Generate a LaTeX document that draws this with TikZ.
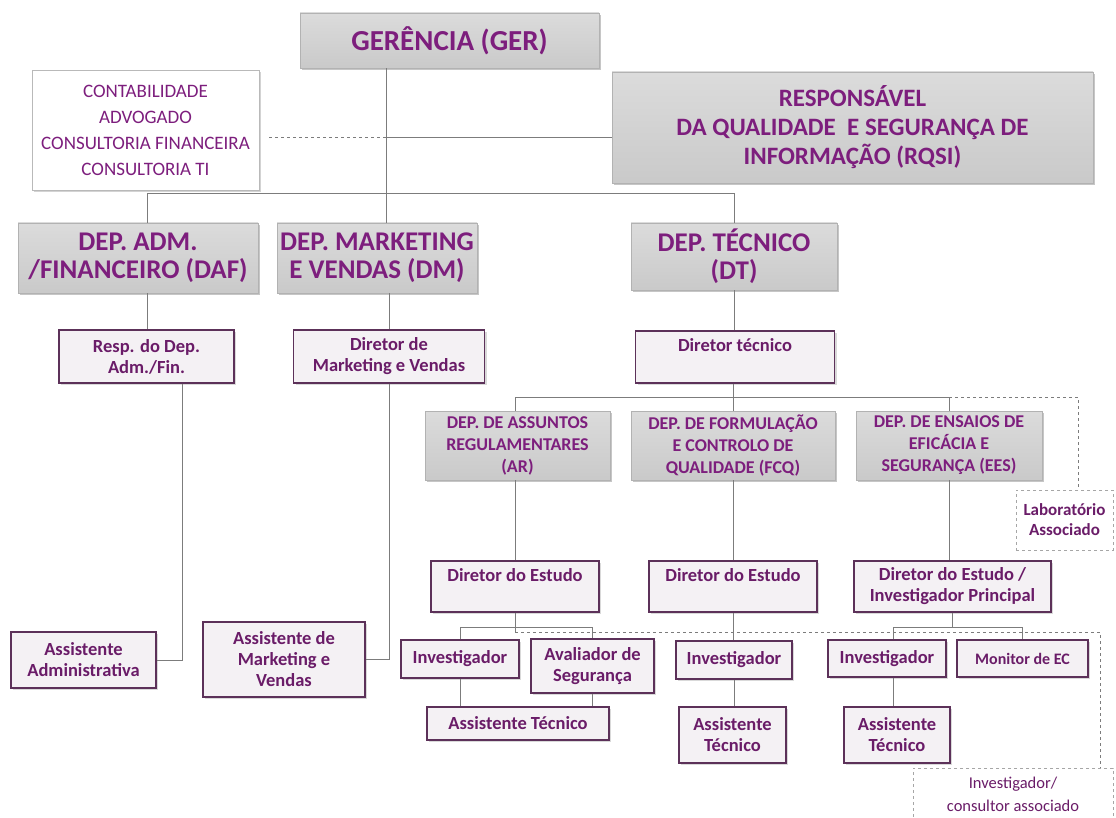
\documentclass[tikz,border=0pt]{standalone}
\usepackage{fontspec}
\setmainfont{Carlito}
\usetikzlibrary{positioning}
\usetikzlibrary{shadows}
\definecolor{plum}{HTML}{7D1E7D}
\definecolor{plumdark}{HTML}{6A1C68}
\definecolor{boxline}{HTML}{5C3159}
\definecolor{boxfill}{HTML}{F4F1F4}
\definecolor{wire}{HTML}{7C7C7C}
\newcommand\bigtitle{\fontsize{29}{30}\selectfont\bfseries}
\newcommand\depttitle{\fontsize{27}{28}\selectfont\bfseries}
\newcommand\subtitle{\fontsize{25}{29}\selectfont\bfseries}
\newcommand\unittitle{\fontsize{18}{22}\selectfont\bfseries}
\newcommand\roletitle{\fontsize{18.5}{21}\selectfont\bfseries}
\tikzset{
  sz/.style 2 args={minimum width=#1 pt, minimum height=#2 pt},
  dept/.style={draw=gray!60, top color=gray!28, bottom color=gray!42, drop shadow={opacity=0.45},
    text=plum, inner sep=0pt, align=center},
  role/.style={draw=boxline, line width=1.1pt, fill=boxfill, drop shadow={opacity=0.3},
    text=plumdark, inner sep=0pt, align=center, font=\roletitle},
  extern/.style={draw=gray!70, dashed, fill=white, text=plumdark, inner sep=0pt, align=center},
  wire/.style={draw=wire, line width=0.9pt},
  dashwire/.style={wire, dashed}
}

\begin{document}
\begin{tikzpicture}[x=1pt, y=-1pt]
\useasboundingbox (0,0) rectangle (1116,818);
% top level
\node[dept, sz={299}{55}, font=\bigtitle] (ger) at (449.5,40.5) {GERÊNCIA (GER)};
\node[draw=gray!55, fill=white, drop shadow={opacity=0.35}, sz={227}{120}, inner sep=0pt, align=center,
  text=plum, font=\fontsize{19}{26}\selectfont] (cons) at (145.5,130)
  {CONTABILIDADE\\ADVOGADO\\CONSULTORIA FINANCEIRA\\CONSULTORIA TI};
\node[dept, sz={481}{111}, font=\subtitle] (rqsi) at (852.5,127.5)
  {RESPONSÁVEL\\DA QUALIDADE\ \ E SEGURANÇA DE\\INFORMAÇÃO (RQSI)};
% departments
\node[dept, sz={240}{70}, font=\depttitle] (daf) at (138,258) {DEP. ADM.\\/FINANCEIRO (DAF)};
\node[dept, sz={200}{70}, font=\depttitle] (dm) at (377,258) {DEP. MARKETING\\E VENDAS (DM)};
\node[dept, sz={206}{67}, font=\depttitle] (dt) at (734,256.5) {DEP. TÉCNICO\\(DT)};
\node[role, sz={175}{53}] (resp) at (146.5,356.5) {Resp. do Dep.\\Adm./Fin.};
\node[role, sz={191}{53}] (dirmkt) at (389,356.5) {Diretor de\\Marketing e Vendas};
\node[role, sz={199}{52}] (dirtec) at (735,357) {Diretor técnico\\[-4pt]\strut};
% technical units
\node[dept, sz={185}{69}, font=\unittitle] (ar) at (517.5,445.5) {DEP. DE ASSUNTOS\\REGULAMENTARES\\(AR)};
\node[dept, sz={204}{69}, font=\unittitle] (fcq) at (733,445.5) {DEP. DE FORMULAÇÃO\\E CONTROLO DE\\QUALIDADE (FCQ)};
\node[dept, sz={186}{69}, font=\unittitle] (ees) at (949,445.5) {DEP. DE ENSAIOS DE\\EFICÁCIA E\\SEGURANÇA (EES)};
\node[extern, sz={97}{60}, font=\fontsize{17}{20}\selectfont\bfseries] (lab) at (1064.5,520) {Laboratório\\Associado};
\node[role, sz={168}{51}] (dirAR) at (515,586.5) {Diretor do Estudo\\[-4pt]\strut};
\node[role, sz={168}{51}] (dirFCQ) at (733,586.5) {Diretor do Estudo\\[-4pt]\strut};
\node[role, sz={197}{51}] (dirEES) at (952.5,586.5) {Diretor do Estudo /\\Investigador Principal};
% assistants and staff
\node[role, sz={145}{56}] (assAdm) at (83.5,660) {Assistente\\Administrativa};
\node[role, sz={162}{75}] (assMkt) at (284,659.5) {Assistente de\\Marketing e\\Vendas};
\node[role, sz={118}{38}] (invAR) at (460,659) {Investigador};
\node[role, sz={123}{54}] (aval) at (592.5,666) {Avaliador de\\Segurança};
\node[role, sz={182}{33}] (tecAR) at (518,723.5) {Assistente Técnico};
\node[role, sz={116}{38}] (invFCQ) at (734,660) {Investigador};
\node[role, sz={107}{56}] (tecFCQ) at (732.5,735) {Assistente\\Técnico};
\node[role, sz={118}{37}] (invEES) at (887,658.5) {Investigador};
\node[role, sz={131}{37}, font=\fontsize{16}{18}\selectfont\bfseries] (mon) at (1022.5,658.5) {Monitor de EC};
\node[role, sz={106}{56}] (tecEES) at (897,735) {Assistente\\Técnico};
\node[extern, sz={200}{52}, font=\fontsize{16.5}{23}\selectfont] (invCons) at (1013,794)
  {Investigador/\\consultor associado};
% connectors
\coordinate (xg) at (386,0);
\coordinate (yq) at (0,137);
\coordinate (yb) at (0,193);
\coordinate (xdaf) at (147,0);
\coordinate (xdm) at (389,0);
\coordinate (xr) at (182,0);
\coordinate (yt) at (0,397);
\coordinate (xl) at (1078,0);
\coordinate (ys) at (0,627);
\coordinate (yd) at (0,632);
\coordinate (xc) at (1100,0);
\coordinate (xi) at (893,0);
\draw[wire] (ger.south -| xg) -- (dm.north -| xg);
\draw[dashwire] ([xshift=10pt]cons.east |- yq) -- (yq -| xg);
\draw[wire] (yq -| xg) -- (yq -| rqsi.west);
\draw[wire] (daf.north -| xdaf) -- (yb -| xdaf) -- (yb -| dt.north) -- (dt.north);
\draw[wire] (daf.south -| xdaf) -- (resp.north -| xdaf);
\draw[wire] (dm.south -| xdm) -- (dirmkt.north -| xdm);
\draw[wire] (dt.south) -- (dt.south |- dirtec.north);
\draw[wire] (resp.south -| xr) |- (assAdm.east);
\draw[wire] (dirmkt.south -| xdm) |- (assMkt.east);
\draw[wire] (dirtec.south -| fcq.north) -- (fcq.north);
\draw[wire] (ar.north -| dirAR.north) -- (yt -| dirAR.north) -- (yt -| ees.north) -- (ees.north);
\draw[dashwire] (yt -| ees.north) -- (yt -| xl) -- (lab.north -| xl);
\draw[wire] (ar.south -| dirAR.north) -- (dirAR.north);
\draw[wire] (fcq.south) -- (dirFCQ.north);
\draw[wire] (ees.south) -- (ees.south |- dirEES.north);
\draw[wire] (dirAR.south) -- (dirAR.south |- yd);
\draw[wire] (invAR.north) |- (ys -| aval.north) -- (aval.north);
\draw[dashwire] (dirAR.south |- yd) -- (yd -| xc) -- (invCons.north -| xc);
\draw[wire] (invAR.south) -- (invAR.south |- tecAR.north);
\draw[wire] (aval.south) -- (aval.south |- tecAR.north);
\draw[wire] (dirFCQ.south) -- (dirFCQ.south |- invFCQ.north);
\draw[wire] (invFCQ.south) -- (invFCQ.south |- tecFCQ.north);
\draw[wire] (dirEES.south) -- (dirEES.south |- ys);
\draw[wire] (ys -| xi) -- (ys -| mon.north) -- (mon.north);
\draw[wire] (invEES.north -| xi) -- (ys -| xi);
\draw[wire] (invEES.south -| xi) -- (tecEES.north -| xi);
\end{tikzpicture}
\end{document}
